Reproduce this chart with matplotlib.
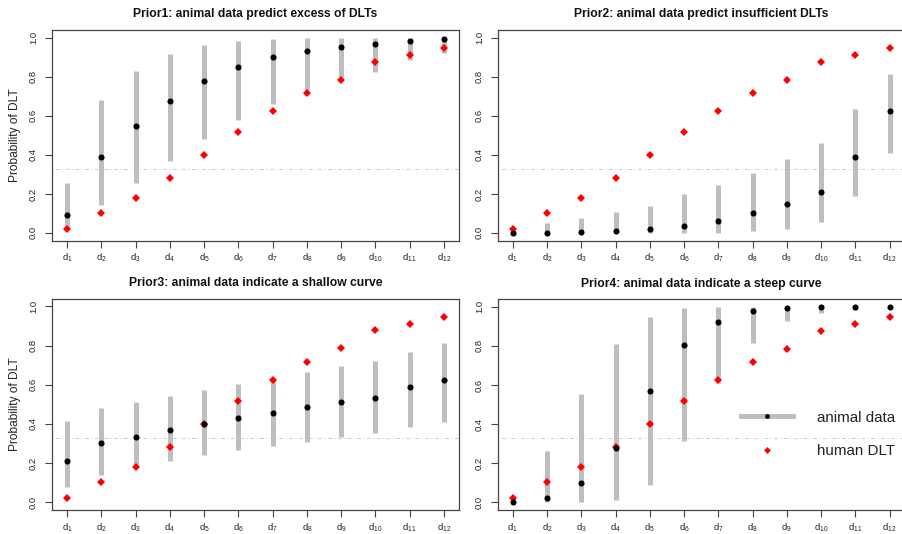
import matplotlib
matplotlib.use("Agg")
import matplotlib.pyplot as plt
from matplotlib.lines import Line2D

plt.rcParams['font.family'] = ['Liberation Sans', 'DejaVu Sans']

doses = list(range(1, 13))
dose_labels = ["d1", "d2", "d3", "d4", "d5", "d6", "d7", "d8", "d9", "d10", "d11", "d12"]

human_dlt = [0.021, 0.103, 0.178, 0.283, 0.400, 0.518, 0.626, 0.715, 0.786, 0.878, 0.911, 0.947]

prior1_med = [0.094, 0.389, 0.547, 0.678, 0.779, 0.849, 0.900, 0.930, 0.954, 0.969, 0.985, 0.993]
prior1_lo = [0.020, 0.142, 0.254, 0.369, 0.482, 0.580, 0.662, 0.730, 0.800, 0.823, 0.885, 0.923]
prior1_hi = [0.257, 0.679, 0.828, 0.918, 0.962, 0.985, 0.995, 0.999, 1.000, 1.000, 1.000, 1.000]

prior2_med = [0.000, 0.002, 0.005, 0.010, 0.019, 0.036, 0.060, 0.100, 0.149, 0.209, 0.389, 0.623]
prior2_lo = [0.000, 0.000, 0.000, 0.000, 0.000, 0.000, 0.000, 0.010, 0.022, 0.057, 0.189, 0.408]
prior2_hi = [0.010, 0.051, 0.074, 0.108, 0.139, 0.197, 0.245, 0.309, 0.377, 0.463, 0.635, 0.813]

prior3_med = [0.211, 0.301, 0.333, 0.368, 0.400, 0.428, 0.457, 0.485, 0.514, 0.534, 0.586, 0.624]
prior3_lo = [0.077, 0.141, 0.187, 0.210, 0.239, 0.265, 0.287, 0.309, 0.333, 0.351, 0.385, 0.411]
prior3_hi = [0.416, 0.479, 0.510, 0.540, 0.574, 0.605, 0.630, 0.665, 0.696, 0.722, 0.768, 0.814]

prior4_med = [0.000, 0.021, 0.100, 0.278, 0.567, 0.802, 0.924, 0.979, 0.995, 0.999, 1.000, 1.000]
prior4_lo = [0.000, 0.000, 0.000, 0.012, 0.089, 0.313, 0.610, 0.816, 0.925, 0.966, 0.985, 0.995]
prior4_hi = [0.020, 0.261, 0.553, 0.811, 0.948, 0.995, 1.000, 1.000, 1.000, 1.000, 1.000, 1.000]

titles = ["Prior1: animal data predict excess of DLTs",
          "Prior2: animal data predict insufficient DLTs",
          "Prior3: animal data indicate a shallow curve",
          "Prior4: animal data indicate a steep curve"]

target = 0.33
yticks = [0.0, 0.2, 0.4, 0.6, 0.8, 1.0]

W, H = 903, 534
fig = plt.figure(figsize=(W / 100, H / 100), dpi=100)

# axes boxes in pixels: (left, top, right, bottom)
boxes = [(52, 30, 459, 240.7), (497.7, 30, 904.7, 240.7),
         (52, 298.5, 459, 510), (497.7, 299, 904.7, 510)]

priors = [(prior1_med, prior1_lo, prior1_hi), (prior2_med, prior2_lo, prior2_hi),
          (prior3_med, prior3_lo, prior3_hi), (prior4_med, prior4_lo, prior4_hi)]

tick_text = ["$\\mathregular{d_{%s}}$" % s[1:] for s in dose_labels]
axcol = '#444444'
txtcol = '#222222'

for i, (box, (med, lo, hi), title) in enumerate(zip(boxes, priors, titles)):
    l, t, r, b = box
    ax = fig.add_axes([l / W, 1 - b / H, (r - l) / W, (b - t) / H])
    ax.axhline(target, color='#CFCFCF', lw=0.7, dashes=(1, 2.5, 4, 2.5), zorder=1)
    ax.vlines(doses, lo, hi, colors='#BEBEBE', lw=3.6, zorder=2, capstyle='butt')
    ax.plot(doses, human_dlt, linestyle='none', marker='D', ms=3.8, mew=0,
            color='#FF0000', zorder=3)
    ax.plot(doses, med, linestyle='none', marker='o', ms=4.4, mew=0,
            color='black', zorder=4)
    ax.set_xlim(0.56, 12.44)
    ax.set_ylim(-0.04, 1.04)
    ax.set_xticks(doses)
    ax.set_xticklabels(tick_text)
    ax.set_yticks(yticks)
    ax.set_yticklabels(["%.1f" % v for v in yticks], rotation=90, va='center')
    ax.tick_params(axis='both', direction='out', length=5, width=0.8, color=axcol,
                   labelsize=6.8, labelcolor=txtcol)
    ax.tick_params(axis='x', pad=3)
    ax.tick_params(axis='y', pad=5)
    for s in ax.spines.values():
        s.set_color(axcol)
        s.set_linewidth(0.9)
    ax.set_title(title, fontsize=8.7, fontweight='bold', pad=9, color='#111111')
    if i % 2 == 0:
        ax.set_ylabel("Probability of DLT", fontsize=8.6, labelpad=6, color=txtcol)
    if i == 3:
        handles = [Line2D([], [], color='#BEBEBE', lw=3.6, marker='o', ms=3.4,
                          mfc='black', mec='black', mew=0),
                   Line2D([], [], linestyle='none', marker='D', ms=3.5, mew=0,
                          color='#FF0000')]
        leg = ax.legend(handles, ["animal data", "human DLT"], loc='upper left',
                        bbox_to_anchor=(740.7 / W, 1 - 410.5 / H),
                        bbox_transform=fig.transFigure, frameon=False,
                        fontsize=10.9, borderpad=0, borderaxespad=0,
                        handlelength=3.45, handletextpad=1.6, labelspacing=1.3,
                        numpoints=1)
        for tx in leg.get_texts():
            tx.set_color(txtcol)

fig.savefig("out.png", dpi=100)
